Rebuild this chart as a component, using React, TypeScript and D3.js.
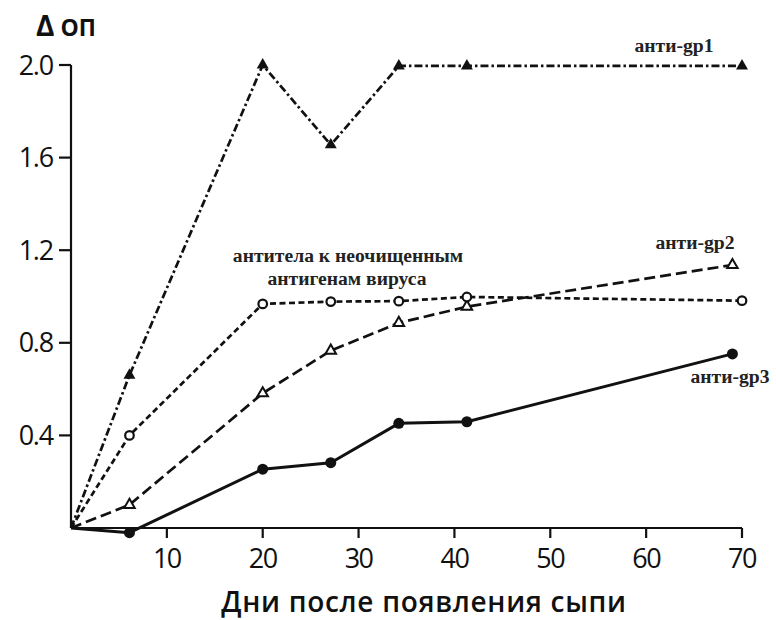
import React from "react";
import * as d3 from "d3";

const W = 776;
const H = 620;

// Days after rash appearance
const daysA = [0, 6.1, 20, 27.1, 34.2, 41.3, 70];
const daysB = [0, 6.1, 20, 27.1, 34.2, 41.3, 69];

// ΔОП values
const gp1 = [0, 0.66, 2.0, 1.655, 1.996, 1.996, 1.996];
const crude = [0, 0.4, 0.968, 0.978, 0.98, 0.998, 0.982];
const gp2 = [0, 0.1, 0.582, 0.766, 0.886, 0.956, 1.136];
const gp3 = [0, -0.02, 0.254, 0.282, 0.452, 0.459, 0.752];

const xTicks = [10, 20, 30, 40, 50, 60, 70];
const yTicks = [0.4, 0.8, 1.2, 1.6, 2.0];
const yTickLabels = ["0.4", "0.8", "1.2", "1.6", "2.0"];

const yAxisTitle = "ОП";
const xAxisTitle = "Дни после появления сыпи";
const labelGp1 = "анти-gp1";
const labelGp2 = "анти-gp2";
const labelGp3 = "анти-gp3";
const labelCrude1 = "антитела к неочищенным";
const labelCrude2 = "антигенам вируса";

const x = d3.scaleLinear().domain([0, 70]).range([71, 742]);
const y = d3.scaleLinear().domain([0, 2]).range([528, 65]);

const INK = "#111";

type Series = {
  days: number[];
  vals: number[];
  dash: string | undefined;
  marker: "triF" | "triO" | "circO" | "circF";
};

const series: Series[] = [
  { days: daysB, vals: gp3, dash: undefined, marker: "circF" },
  { days: daysB, vals: gp2, dash: "11,5", marker: "triO" },
  { days: daysA, vals: crude, dash: "6,3.5", marker: "circO" },
  { days: daysA, vals: gp1, dash: "8,3,2.5,3", marker: "triF" },
];

const line = d3
  .line<[number, number]>()
  .x((d) => x(d[0]))
  .y((d) => y(d[1]));

const triPath = d3.symbol().type(d3.symbolTriangle).size(62)() as string;
const triPathO = d3.symbol().type(d3.symbolTriangle).size(48)() as string;

function Marker({ kind, cx, cy }: { kind: Series["marker"]; cx: number; cy: number }) {
  if (kind === "circF") return <circle cx={cx} cy={cy} r={5.5} fill={INK} />;
  if (kind === "circO")
    return <circle cx={cx} cy={cy} r={4.3} fill="#fff" stroke={INK} strokeWidth={2.2} />;
  if (kind === "triF")
    return <path d={triPath} transform={`translate(${cx},${cy})`} fill={INK} />;
  return (
    <path
      d={triPathO}
      transform={`translate(${cx},${cy})`}
      fill="#fff"
      stroke={INK}
      strokeWidth={2}
    />
  );
}

export default function App() {
  const tickFont = "'Open Sans', 'DejaVu Sans', sans-serif";
  const serif = "'Liberation Serif', 'Times New Roman', serif";
  return (
    <div style={{ position: "absolute", left: 0, top: 0 }}>
      <svg width={W} height={H} style={{ display: "block", background: "#fff" }}>
        <rect width={W} height={H} fill="#fff" />
        {/* axes */}
        <line x1={x(0)} x2={x(0)} y1={y(0)} y2={y(2)} stroke={INK} strokeWidth={2.2} />
        <line x1={x(0)} x2={x(70)} y1={y(0)} y2={y(0)} stroke={INK} strokeWidth={2.2} />
        {yTicks.map((t, i) => (
          <g key={"yt" + i}>
            <line x1={x(0) - 12} x2={x(0)} y1={y(t)} y2={y(t)} stroke={INK} strokeWidth={2.2} />
            <text
              x={x(0) - 18}
              y={y(t) + 9.5}
              textAnchor="end"
              fontFamily={tickFont}
              fontSize={27}
              letterSpacing={-1.2}
              fill={INK}
            >
              {yTickLabels[i]}
            </text>
          </g>
        ))}
        {xTicks.map((t) => (
          <g key={"xt" + t}>
            <line x1={x(t)} x2={x(t)} y1={y(0)} y2={y(0) + 10} stroke={INK} strokeWidth={2.2} />
            <text
              x={x(t)}
              y={568}
              textAnchor="middle"
              fontFamily={tickFont}
              fontSize={27}
              letterSpacing={-1.5}
              fill={INK}
            >
              {t}
            </text>
          </g>
        ))}
        {/* series */}
        {series.map((s, i) => {
          const pts = s.days.map((d, j) => [d, s.vals[j]] as [number, number]);
          return (
            <g key={"s" + i}>
              <path
                d={line(pts) as string}
                fill="none"
                stroke={INK}
                strokeWidth={s.dash ? 2.7 : 3}
                strokeDasharray={s.dash}
                strokeLinejoin="round"
              />
              {pts.slice(1).map((p, j) => (
                <Marker key={j} kind={s.marker} cx={x(p[0])} cy={y(p[1])} />
              ))}
            </g>
          );
        })}
        {/* titles */}
        <text x={36} y={36} fontFamily={tickFont} fontWeight={700} fill={INK}>
          <tspan fontSize={28}>Δ</tspan>
          <tspan fontSize={23} dx={6}>{yAxisTitle}</tspan>
        </text>
        <text
          x={424}
          y={612}
          textAnchor="middle"
          fontFamily={tickFont}
          fontWeight={600}
          fontSize={28}
          letterSpacing={0.7}
          fill={INK}
        >
          {xAxisTitle}
        </text>
        {/* annotations */}
        <g fontFamily={serif} fontWeight={700} fontSize={19.6} fill="#222" textAnchor="middle">
          <text x={674} y={52}>{labelGp1}</text>
          <text x={695} y={249}>{labelGp2}</text>
          <text x={730} y={383}>{labelGp3}</text>
          <text x={348} y={262}>{labelCrude1}</text>
          <text x={347} y={285}>{labelCrude2}</text>
        </g>
      </svg>
    </div>
  );
}
